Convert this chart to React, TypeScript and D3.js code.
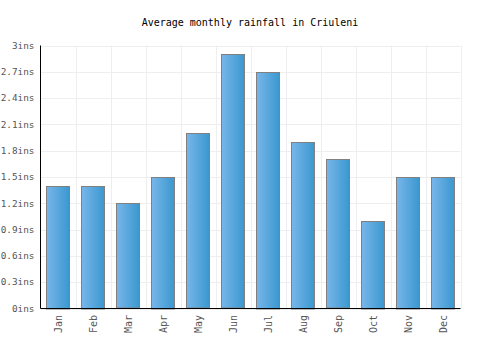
import * as d3 from 'd3';

const months = ['Jan', 'Feb', 'Mar', 'Apr', 'May', 'Jun', 'Jul', 'Aug', 'Sep', 'Oct', 'Nov', 'Dec'];
const rainfall = [1.4, 1.4, 1.2, 1.5, 2.0, 2.9, 2.7, 1.9, 1.7, 1.0, 1.5, 1.5];
const yTicks = [0, 0.3, 0.6, 0.9, 1.2, 1.5, 1.8, 2.1, 2.4, 2.7, 3];

const W = 500;
const H = 350;
const left = 40.5;
const right = 460.5;
const top = 45.5;
const bottom = 308.5;
const font = "'DejaVu Sans Mono', monospace";

const App = () => {
  const x = d3.scaleBand<string>().domain(months).range([left, right]).paddingInner(0.34).paddingOuter(0.17);
  const grid = d3.scaleBand<string>().domain(months).range([left, right]);
  const y = d3.scaleLinear().domain([0, 3]).range([bottom, top]);

  return (
    <svg width={W} height={H} style={{ position: 'absolute', left: 0, top: 0 }}>
      <defs>
        <linearGradient id="barFill" x1="0" x2="1" y1="0" y2="0">
          <stop offset="0%" stopColor="#78b6ea" />
          <stop offset="100%" stopColor="#3a98cf" />
        </linearGradient>
      </defs>
      <rect width={W} height={H} fill="#fff" />
      <text x={250} y={26} textAnchor="middle" fontFamily={font} fontSize={10} fill="#000">
        Average monthly rainfall in Criuleni
      </text>

      {/* grid */}
      {yTicks.map(t => (
        <line key={'h' + t} x1={left} x2={right} y1={Math.round(y(t)) + 0.5} y2={Math.round(y(t)) + 0.5} stroke="#eeeeee" />
      ))}
      {months.map(m => (
        <line key={'v' + m} x1={Math.round(grid(m)! + grid.bandwidth()) + 0.5} x2={Math.round(grid(m)! + grid.bandwidth()) + 0.5} y1={top} y2={bottom} stroke="#eeeeee" />
      ))}

      {/* bars */}
      {rainfall.map((v, i) => (
        <rect
          key={months[i]}
          x={Math.round(x(months[i])!) + 0.5}
          y={Math.round(y(v)) + 0.5}
          width={Math.round(x.bandwidth())}
          height={Math.round(bottom - y(v)) - 0.5}
          fill="url(#barFill)"
          stroke="#808080"
          strokeWidth={1}
        />
      ))}

      {/* axes */}
      <line x1={left} x2={left} y1={top} y2={bottom} stroke="#000" />
      <line x1={left} x2={right} y1={bottom} y2={bottom} stroke="#000" />

      {yTicks.map(t => (
        <text key={'yl' + t} x={34.5} y={y(t)} dy="0.35em" textAnchor="end" fontFamily={font} fontSize={9.4} fill="#555">
          {`${d3.format('~g')(t)}ins`}
        </text>
      ))}
      {months.map(m => (
        <text
          key={'xl' + m}
          transform={`translate(${x(m)! + x.bandwidth() / 2},315) rotate(-90)`}
          dy="0.35em"
          textAnchor="end"
          fontFamily={font}
          fontSize={10}
          fill="#555"
        >
          {m}
        </text>
      ))}
    </svg>
  );
};

export default App;
